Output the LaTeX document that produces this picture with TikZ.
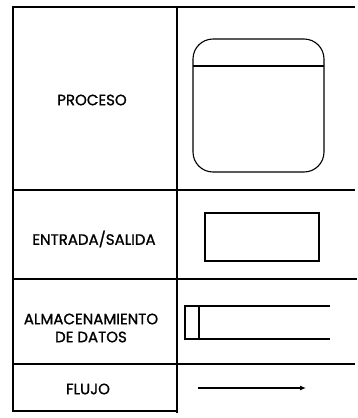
\documentclass[tikz,border=0pt]{standalone}
\usepackage{fontspec}
\setmainfont{Poppins}[FakeBold=1.2]
\usetikzlibrary{arrows.meta}
\begin{document}
\begin{tikzpicture}[x=1pt,y=-1pt,line width=1.1pt]
	\useasboundingbox (0,0) rectangle (357,418);
	\def\leftx{13}
	\def\midx{177}
	\tikzset{lbl/.style={font=\fontsize{15}{18}\selectfont,inner sep=0pt,align=center}}
% table lines
\draw (\leftx,6) -- (\leftx,412);
\draw (\midx,7) -- (\midx,413);
\draw (\leftx,7) -- (355,7);
\draw (\leftx,190) -- (355,190);
\draw (\leftx,279) -- (357,279);
\draw (\leftx,364) -- (355,364);
\draw (\leftx,411) -- (\midx,411);
% labels
\node[lbl] (proceso) at (92,100) {PROCESO};
\node[lbl] (entrada) at (94,239) {ENTRADA/SALIDA};
\node[lbl] (almacen) at (91,328) {ALMACENAMIENTO\\DE DATOS};
\node[lbl] (flujo) at (88,389) {FLUJO};
% symbols
\draw[rounded corners=20pt] (193,39) rectangle (324,172);
\draw (193,66) -- (324,66);
\draw (205,213) rectangle (319,261);
\draw (185,306) rectangle (199,339);
\draw (199,306) -- (330,306);
\draw (199,339) -- (330,339);
\coordinate (fa) at (198,388);
\coordinate (fb) at (306,388);
\draw[-{Latex[length=6pt,width=5pt]}] (fa) -- (fb);
\end{tikzpicture}
\end{document}
